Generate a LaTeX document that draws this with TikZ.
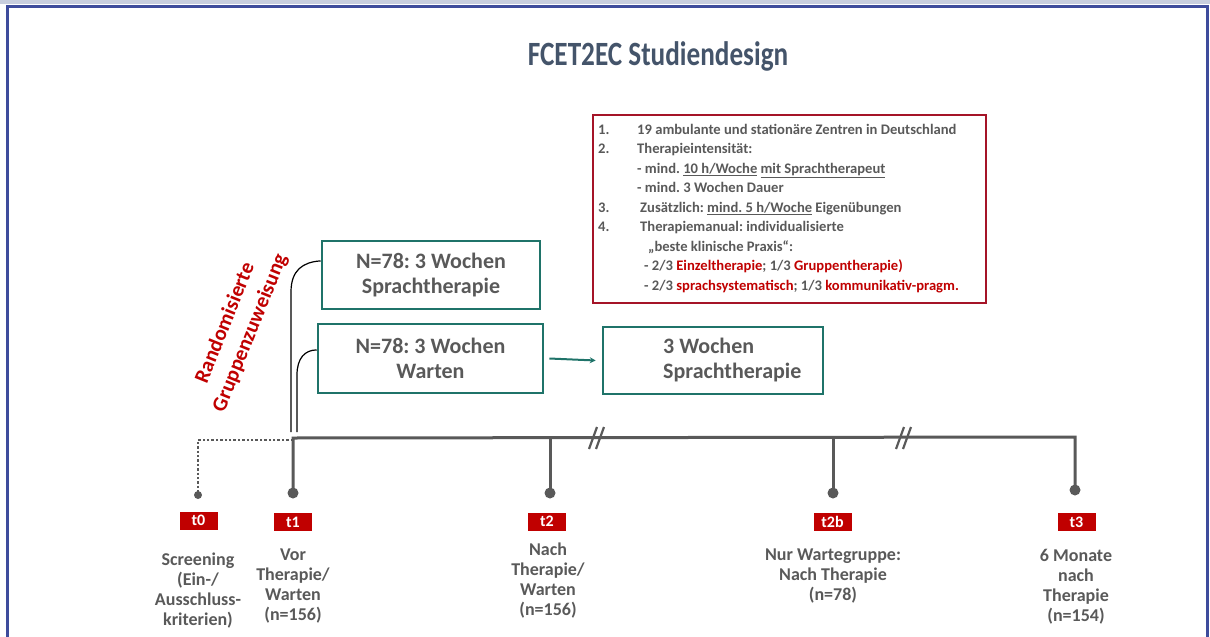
\documentclass[tikz,border=0pt]{standalone}
\usepackage{fontspec}
\setmainfont{Carlito}
\usetikzlibrary{arrows.meta,calc}
\definecolor{frameblue}{RGB}{62,76,156}
\definecolor{topstrip}{RGB}{200,206,222}
\definecolor{tealc}{RGB}{31,115,105}
\definecolor{boxred}{RGB}{165,20,40}
\definecolor{hired}{RGB}{192,0,0}
\definecolor{txtgray}{RGB}{89,89,89}
\definecolor{titlec}{RGB}{68,84,106}
\newcommand\rt[1]{\textcolor{hired}{#1}}
\frenchspacing
\begin{document}
\begin{tikzpicture}[x=1pt,y=-1pt,
  every node/.style={font=\bfseries},
  tealbox/.style={draw=tealc, line width=2.6pt, minimum width=218, minimum height=68, inner sep=0,
    align=center, text=txtgray, font=\fontsize{22pt}{25pt}\selectfont\bfseries},
  tealtxt/.style={text=txtgray, inner sep=0, font=\fontsize{22pt}{25pt}\selectfont\bfseries},
  tag/.style={fill=hired, text=white, minimum width=38, minimum height=18, inner sep=0,
    font=\fontsize{16pt}{16pt}\selectfont\bfseries},
  lbl/.style={anchor=north, align=center, inner sep=0, text=txtgray,
    font=\fontsize{18pt}{20pt}\selectfont\bfseries},
  tl/.style={draw=txtgray, line width=3pt},
  dotc/.style={fill=txtgray},
  brk/.style={draw=txtgray, line width=2.2pt},
  grp/.style={draw=black, line width=1.2pt},
]
\useasboundingbox (0,0) rectangle (1210,637);
% frame
\fill[topstrip] (0,0) rectangle (1210,4);
\draw[frameblue, line width=3pt] (7,640) -- (7,6) -- (1207,6) -- (1207,640);
% title
\node[text=titlec, font=\fontsize{34pt}{40pt}\selectfont\bfseries, inner sep=0] (title) at (658,56) {\scalebox{0.8}[1]{FCET2EC Studiendesign}};
% info box
\node[draw=boxred, line width=2.4pt, minimum width=393, minimum height=188, inner sep=0] (info) at (789.5,209) {};
\node[anchor=north west, align=left, inner sep=0, text=txtgray,
  font=\fontsize{14.6pt}{19.5pt}\selectfont\bfseries] (infotxt) at (598,124) {%
\makebox[39pt][l]{1.}19 ambulante und stationäre Zentren in Deutschland\\
\makebox[39pt][l]{2.}Therapieintensität:\\
\hspace*{39pt}- mind. \underline{10 h/Woche} \underline{mit Sprachtherapeut}\\
\hspace*{39pt}- mind. 3 Wochen Dauer\\
\makebox[42pt][l]{3.}Zusätzlich: \underline{mind. 5 h/Woche} Eigenübungen\\
\makebox[42pt][l]{4.}Therapiemanual: individualisierte\\
\hspace*{50pt}„beste klinische Praxis“:\\
\hspace*{46pt}- 2/3 \rt{Einzeltherapie}; 1/3 \rt{Gruppentherapie)}\\
\hspace*{46pt}- 2/3 \rt{sprachsystematisch}; 1/3 \rt{kommunikativ-pragm.}};
% teal boxes
\node[tealbox] (A) at (431,275) {N=78: 3 Wochen\\Sprachtherapie};
\node[tealbox, minimum width=225, minimum height=69] (B) at (430.5,358.5) {N=78: 3 Wochen\\Warten};
\node[tealbox, minimum width=220, minimum height=67] (C) at (713,360.5) {};
\node[tealtxt, anchor=west, align=left] (Ctxt) at (663,360.5) {3 Wochen\\Sprachtherapie};
\draw[tealc, line width=2pt, -{Stealth[length=6pt,width=6pt]}] ([xshift=5pt]B.east) -- ([xshift=-6pt]C.west);
% randomisation label
\node[rotate=68, text=hired, align=center, inner sep=0,
  font=\fontsize{21pt}{27pt}\selectfont\bfseries] (rg) at (238,328) {Randomisierte\\Gruppenzuweisung};
% randomisation curves
\coordinate (g1) at (291,432);
\coordinate (g2) at (297,432);
\coordinate (a1) at ($(A.north west)!0.3!(A.south west)$);
\coordinate (b1) at ($(B.north west)!0.38!(B.south west)$);
\draw[grp] (g1) -- (291,292) .. controls (291,270) and (303,262) .. (a1);
\draw[grp] (g2) -- (297,375) .. controls (297,358) and (305,350) .. (b1);
% timeline
\coordinate (L) at (293,438);
\coordinate (R) at (1075,437);
\coordinate (p1) at (293,493);
\coordinate (q2) at (550,438);
\coordinate (p2) at (550,493);
\coordinate (q2b) at (833,438);
\coordinate (p2b) at (833,493);
\coordinate (p3) at (1075,490);
\coordinate (d0) at (293,440);
\coordinate (c0) at (198,440);
\coordinate (p0) at (198,495);
\draw[txtgray, line width=2.4pt, dash pattern=on 2.4pt off 2pt] (d0) -- (c0) -- (p0);
\fill[dotc] (p0) circle (4);
\draw[tl] (p1) -- (L) -- (R) -- (p3);
\draw[tl] (q2) -- (p2);
\draw[tl] (q2b) -- (p2b);
\fill[dotc] (p1) circle (5.5);
\fill[dotc] (p2) circle (5.5);
\fill[dotc] (p2b) circle (5.5);
\fill[dotc] (p3) circle (5.5);
% break marks
\draw[brk] (589,449) -- (597,427) (596,449) -- (604,427);
\draw[brk] (896,449) -- (904,427) (903,449) -- (911,427);
% tags
\node[tag] (t0) at (198.5,520.5) {t0};
\node[tag] (t1) at (293,522) {t1};
\node[tag] (t2) at (547,521.5) {t2};
\node[tag] (t2b) at (832.5,521.5) {t2b};
\node[tag] (t3) at (1076.5,522) {t3};
% labels
\node[lbl] (l0) at (198,553) {Screening\\(Ein-/\\Ausschluss-\\kriterien)};
\node[lbl] (l1) at (293,549) {Vor\\Therapie/\\Warten\\(n=156)};
\node[lbl] (l2) at (548,543) {Nach\\Therapie/\\Warten\\(n=156)};
\node[lbl] (l2b) at (833,549) {Nur Wartegruppe:\\Nach Therapie\\(n=78)};
\node[lbl] (l3) at (1076,549) {6 Monate\\nach\\Therapie\\(n=154)};
\end{tikzpicture}
\end{document}
